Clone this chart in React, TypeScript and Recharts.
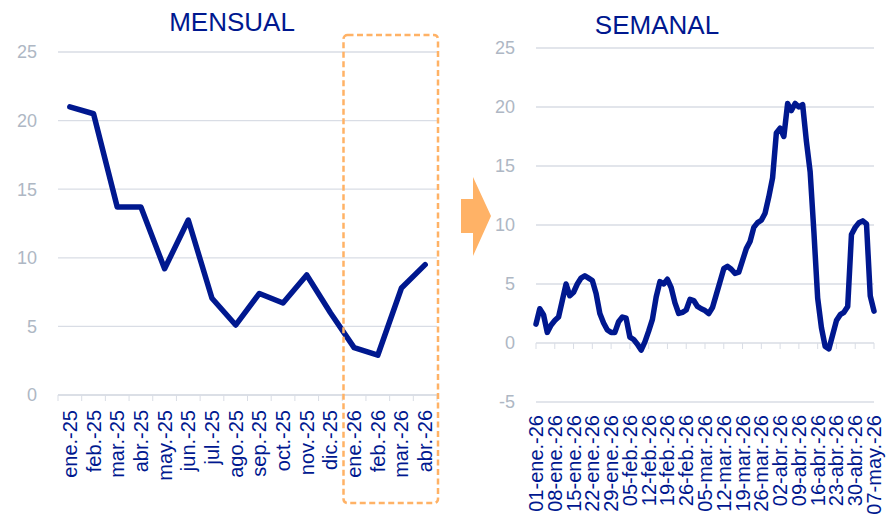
import React from 'react';
import { LineChart, Line, XAxis, YAxis, CartesianGrid } from 'recharts';

const NAVY = '#00188F';
const GRID = '#D9DDE5';
const AXIS_TXT = '#AEB7C4';
const ORANGE = '#FFB266';
const FONT = '"Liberation Sans", Arial, sans-serif';

// mensual
const monthCats = ['ene.-25', 'feb.-25', 'mar.-25', 'abr.-25', 'may.-25', 'jun.-25', 'jul.-25', 'ago.-25', 'sep.-25', 'oct.-25', 'nov.-25', 'dic.-25', 'ene.-26', 'feb.-26', 'mar.-26', 'abr.-26'];
const monthValues = [21.0, 20.5, 13.7, 13.7, 9.2, 12.75, 7.05, 5.1, 7.4, 6.7, 8.75, 6.0, 3.45, 2.9, 7.8, 9.5];
const monthTicks = [0, 5, 10, 15, 20, 25];

// semanal (días hábiles, etiqueta cada jueves)
const weekLabels = ['01-ene.-26', '08-ene.-26', '15-ene.-26', '22-ene.-26', '29-ene.-26', '05-feb.-26', '12-feb.-26', '19-feb.-26', '26-feb.-26', '05-mar.-26', '12-mar.-26', '19-mar.-26', '26-mar.-26', '02-abr.-26', '09-abr.-26', '16-abr.-26', '23-abr.-26', '30-abr.-26', '07-may.-26'];
const semanalValues = [
  1.6, 2.9, 2.4, 0.9, 1.5, 1.9, 2.2, 3.6, 5.0, 4.0,
  4.3, 5.0, 5.5, 5.7, 5.5, 5.3, 4.2, 2.5, 1.7, 1.1,
  0.9, 0.9, 1.8, 2.2, 2.1, 0.5, 0.3, -0.1, -0.6, 0.1,
  1.0, 2.0, 3.9, 5.2, 5.0, 5.4, 4.7, 3.4, 2.5, 2.6,
  2.8, 3.7, 3.6, 3.1, 2.9, 2.75, 2.5, 3.0, 4.1, 5.2,
  6.3, 6.5, 6.25, 5.9, 6.0, 7.0, 8.0, 8.6, 9.8, 10.2,
  10.4, 11.0, 12.4, 14.0, 17.8, 18.2, 17.5, 20.3, 19.7, 20.3,
  20.0, 20.2, 17.1, 14.5, 9.4, 3.8, 1.3, -0.3, -0.5, 0.7,
  1.9, 2.4, 2.6, 3.1, 9.2, 9.8, 10.2, 10.35, 10.1, 4.0,
  2.7,
];
const semanalTicks = [-5, 0, 5, 10, 15, 20, 25];

const monthData = monthCats.map((mes, i) => ({ mes, v: monthValues[i] }));
const semanalData = semanalValues.map((v, i) => ({ i, v }));

// left chart geometry
const L_W = 450, L_H = 517, L_TOP = 52, L_RIGHT = 13, L_YW = 58, L_XH = 122;
const L_PLOT_W = L_W - L_RIGHT - L_YW;
const STEP = L_PLOT_W / monthCats.length;

// right chart geometry
const R_W = 437, R_H = 517, R_TOP = 48, R_RIGHT = 13, R_YW = 86, R_XH = 115;
const R_PLOT_H = R_H - R_TOP - R_XH;
const ZERO_OFF = (R_PLOT_H * (0 - semanalTicks[0])) / (semanalTicks[semanalTicks.length - 1] - semanalTicks[0]);

const MonthTick = (props: any) => {
  const { x, y, payload, index } = props;
  const h = STEP / 2;
  return (
    <g>
      <line x1={x - h} x2={x - h} y1={y} y2={y + 6} stroke={GRID} />
      {index === monthCats.length - 1 && <line x1={x + h} x2={x + h} y1={y} y2={y + 6} stroke={GRID} />}
      <text transform={`translate(${x},${y + 15}) rotate(-90)`} textAnchor="end" dy={7} fill={NAVY} fontSize={20} fontFamily={FONT}>
        {payload.value}
      </text>
    </g>
  );
};

const WeekTick = (props: any) => {
  const { x, y, payload } = props;
  const label = weekLabels[Math.round(payload.value / 5)];
  return (
    <g>
      <line x1={x} x2={x} y1={y - ZERO_OFF} y2={y - ZERO_OFF + 6} stroke={GRID} />
      <text transform={`translate(${x},${y + 13}) rotate(-90)`} textAnchor="end" dy={7} fill={NAVY} fontSize={20} fontFamily={FONT}>
        {label}
      </text>
    </g>
  );
};

export default function App() {
  return (
    <div style={{ position: 'absolute', left: 0, top: 0, width: 887, height: 517, background: '#fff', fontFamily: FONT }}>
      <div style={{ position: 'absolute', left: 0, top: 0 }}>
        <LineChart width={L_W} height={L_H} data={monthData} margin={{ top: L_TOP, right: L_RIGHT, left: 0, bottom: 0 }}>
          <CartesianGrid vertical={false} stroke={GRID} strokeWidth={1.3} />
          <XAxis
            dataKey="mes"
            height={L_XH}
            interval={0}
            padding={{ left: STEP / 2, right: STEP / 2 }}
            axisLine={{ stroke: GRID, strokeWidth: 1.3 }}
            tickLine={false}
            tickSize={0}
            tickMargin={0}
            tick={MonthTick}
          />
          <YAxis
            domain={[0, 25]}
            ticks={monthTicks}
            width={L_YW}
            axisLine={false}
            tickLine={false}
            tickSize={0}
            tickMargin={21}
            tick={{ fill: AXIS_TXT, fontSize: 18, fontFamily: FONT }}
          />
          <Line type="linear" dataKey="v" stroke={NAVY} strokeWidth={5.5} dot={false} isAnimationActive={false} strokeLinejoin="round" strokeLinecap="round" />
        </LineChart>
      </div>
      <div style={{ position: 'absolute', left: 450, top: 0 }}>
        <LineChart width={R_W} height={R_H} data={semanalData} margin={{ top: R_TOP, right: R_RIGHT, left: 0, bottom: 0 }}>
          <CartesianGrid vertical={false} stroke={GRID} strokeWidth={1.3} />
          <XAxis
            dataKey="i"
            height={R_XH}
            interval={4}
            axisLine={false}
            tickLine={false}
            tickSize={0}
            tickMargin={0}
            tick={WeekTick}
          />
          <YAxis
            domain={[-5, 25]}
            ticks={semanalTicks}
            width={R_YW}
            axisLine={false}
            tickLine={false}
            tickSize={0}
            tickMargin={21}
            tick={{ fill: AXIS_TXT, fontSize: 18, fontFamily: FONT }}
          />
          <Line type="linear" dataKey="v" stroke={NAVY} strokeWidth={5.5} dot={false} isAnimationActive={false} strokeLinejoin="round" strokeLinecap="round" />
        </LineChart>
      </div>
      <svg width={887} height={517} style={{ position: 'absolute', left: 0, top: 0, pointerEvents: 'none' }}>
        <text x={232} y={31} textAnchor="middle" fontSize={26} fill={NAVY} fontFamily={FONT}>MENSUAL</text>
        <text x={657} y={34} textAnchor="middle" fontSize={26} fill={NAVY} fontFamily={FONT}>SEMANAL</text>
        <rect x={343.5} y={35} width={94.5} height={468} rx={4} fill="none" stroke={ORANGE} strokeWidth={2.5} strokeDasharray="6 3.5" />
        <polygon points="461,199 473,199 473,177 491,216 473,256 473,233 461,233" fill={ORANGE} />
      </svg>
    </div>
  );
}
